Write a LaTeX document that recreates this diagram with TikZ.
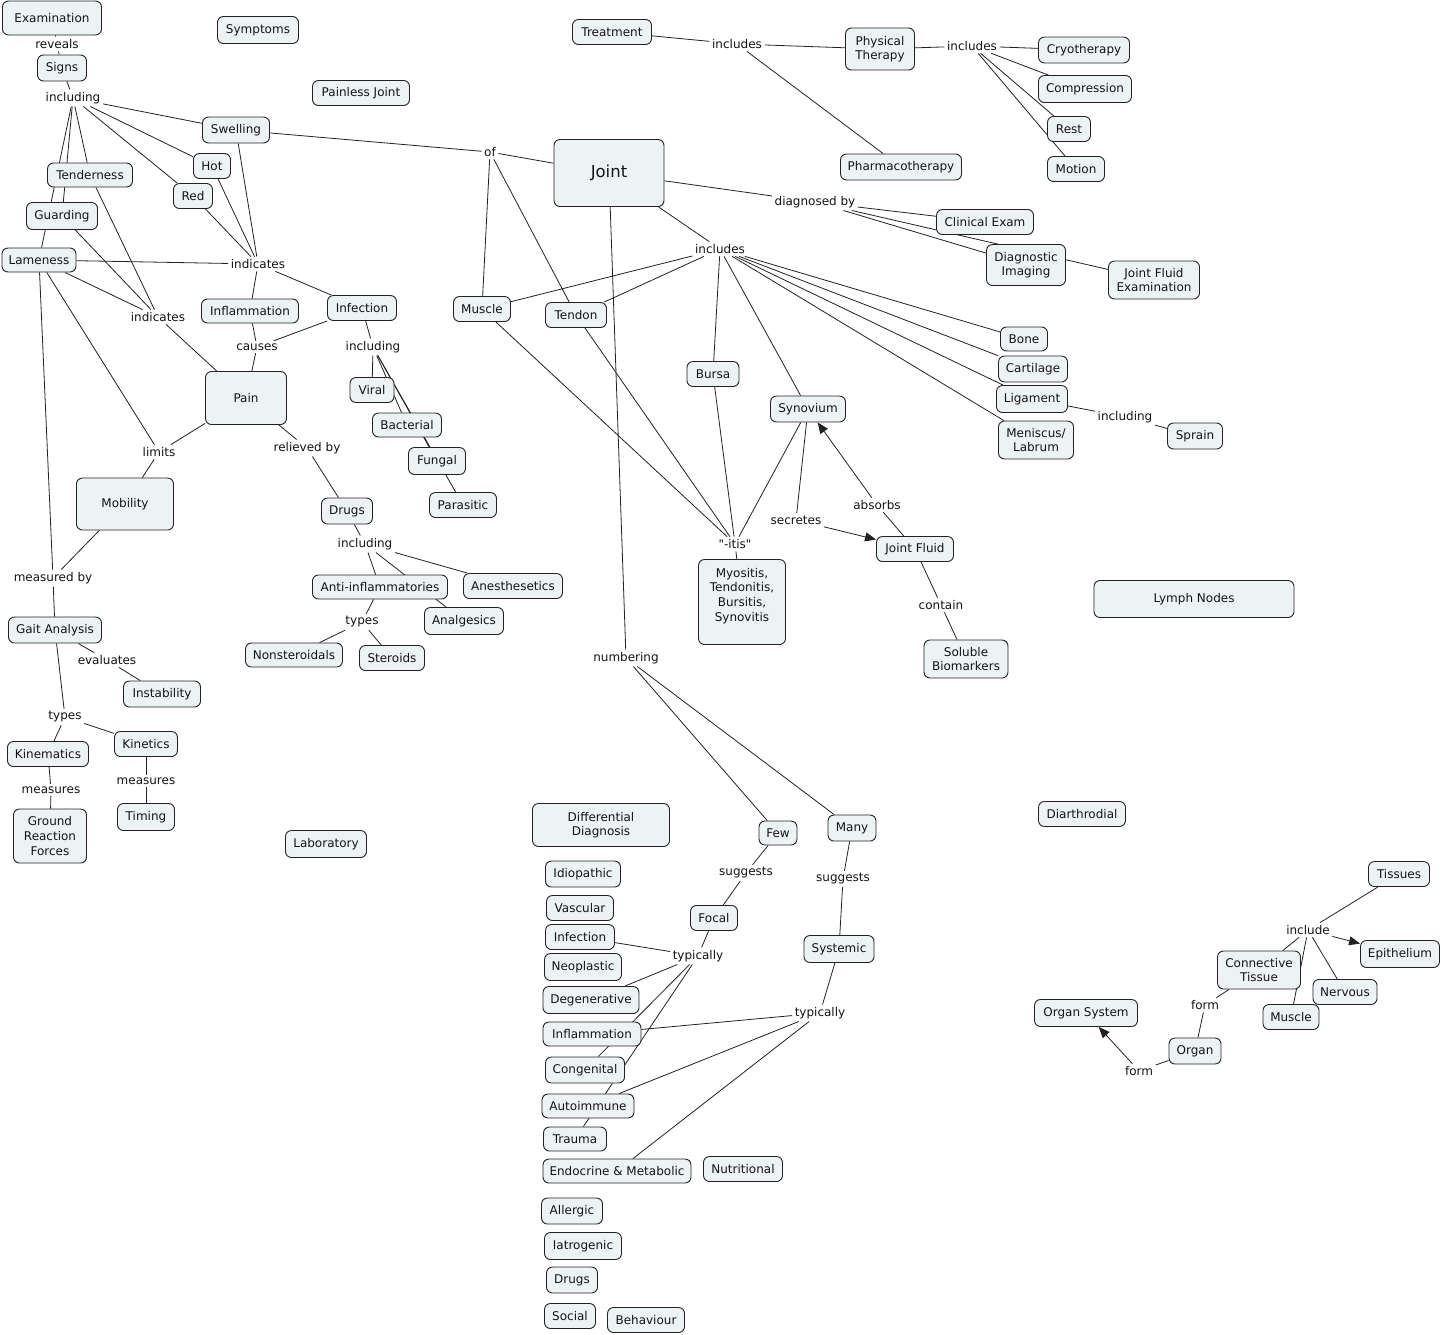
\documentclass[tikz,border=0pt]{standalone}
\usepackage{fontspec}
\setmainfont{DejaVu Sans}
\usetikzlibrary{arrows.meta}
\definecolor{cmapfill}{RGB}{237,243,245}
\definecolor{cmapline}{RGB}{34,34,34}
\definecolor{cmaptext}{RGB}{20,20,20}
\pgfdeclarelayer{background}
\pgfsetlayers{background,main}

\begin{document}
\begin{tikzpicture}[x=1pt, y=-1pt,
  concept/.style 2 args={draw=cmapline, fill=cmapfill, rounded corners=6pt, line width=0.9pt,
    inner sep=1pt, align=center, text=cmaptext, font=\fontsize{12}{14.6}\selectfont,
    minimum width=#1, minimum height=#2},
  link/.style={inner sep=2.5pt, text=cmaptext, font=\fontsize{12}{14.6}\selectfont},
  conn/.style={draw=cmapline, line width=0.8pt},
  arrowconn/.style={conn, -{Triangle[length=11pt,width=9pt]}}]
\useasboundingbox (0,0) rectangle (1442,1334);

% signs and symptoms
\node[concept={99}{34}] (exam) at (52,18) {Examination};
\node[concept={49}{26}] (signs) at (62,68) {Signs};
\node[concept={81}{27}] (symptoms) at (258,30) {Symptoms};
\node[concept={97}{25}] (painless) at (361,93) {Painless Joint};
\node[concept={67}{26}] (swelling) at (236,130) {Swelling};
\node[concept={37}{25}] (hot) at (212,166) {Hot};
\node[concept={39}{25}] (red) at (193,196) {Red};
\node[concept={85}{24}] (tender) at (90,175) {Tenderness};
\node[concept={71}{27}] (guard) at (62,216) {Guarding};
\node[concept={74}{24}] (lame) at (39,260) {Lameness};
\node[concept={97}{24}] (inflam) at (250,311) {Inflammation};
\node[concept={69}{25}] (infect) at (362,308) {Infection};
\node[concept={81}{53}] (pain) at (246,398) {Pain};
\node[concept={44}{25}] (viral) at (372,390) {Viral};
\node[concept={69}{24}] (bact) at (407,425) {Bacterial};
\node[concept={57}{27}] (fungal) at (437,461) {Fungal};
\node[concept={67}{25}] (parasitic) at (463,505) {Parasitic};
\node[concept={97}{52}] (mobility) at (125,504) {Mobility};
\node[concept={51}{26}] (drugs) at (347,511) {Drugs};
\node[concept={135}{24}] (antiinf) at (380,587) {Anti-inflammatories};
\node[concept={99}{25}] (anesth) at (513,586) {Anesthesetics};
\node[concept={79}{27}] (analg) at (464,621) {Analgesics};
\node[concept={97}{24}] (nonster) at (294,655) {Nonsteroidals};
\node[concept={65}{25}] (steroids) at (392,658) {Steroids};
\node[concept={93}{26}] (gait) at (55,630) {Gait Analysis};
\node[concept={77}{26}] (instab) at (162,694) {Instability};
\node[concept={63}{25}] (kinetics) at (146,744) {Kinetics};
\node[concept={81}{25}] (kinem) at (48,754) {Kinematics};
\node[concept={73}{54}] (grf) at (50,836) {Ground\\Reaction\\Forces};
\node[concept={57}{27}] (timing) at (146,817) {Timing};
\node[concept={81}{27}] (lab) at (326,844) {Laboratory};

% joint, treatment, diagnosis
\node[concept={79}{25}] (treat) at (612,32) {Treatment};
\node[concept={69}{42}] (pt) at (880,49) {Physical\\Therapy};
\node[concept={121}{26}] (pharma) at (901,167) {Pharmacotherapy};
\node[concept={91}{26}] (cryo) at (1084,50) {Cryotherapy};
\node[concept={93}{27}] (compr) at (1085,89) {Compression};
\node[concept={43}{25}] (rest) at (1069,129) {Rest};
\node[concept={57}{25}] (motion) at (1076,169) {Motion};
\node[concept={110}{67}, font=\fontsize{16.5}{20}\selectfont] (joint) at (609,173) {Joint};
\node[concept={97}{25}] (clinical) at (985,222) {Clinical Exam};
\node[concept={79}{41}] (diagimg) at (1026,265) {Diagnostic\\Imaging};
\node[concept={91}{38}] (jfe) at (1154,280) {Joint Fluid\\Examination};
\node[concept={57}{25}] (muscle) at (482,309) {Muscle};
\node[concept={61}{25}] (tendon) at (576,315) {Tendon};
\node[concept={52}{25}] (bursa) at (713,374) {Bursa};
\node[concept={75}{26}] (synov) at (808,409) {Synovium};
\node[concept={47}{24}] (bone) at (1024,339) {Bone};
\node[concept={69}{26}] (cart) at (1033,369) {Cartilage};
\node[concept={71}{27}] (lig) at (1032,399) {Ligament};
\node[concept={75}{38}] (menisc) at (1036,440) {Meniscus/\\Labrum};
\node[concept={55}{26}] (sprain) at (1195,436) {Sprain};
\node[concept={200}{37}] (lymph) at (1194,599) {Lymph Nodes};
\node[concept={87}{85}] (itisbox) at (742,602) {Myositis,\\Tendonitis,\\Bursitis,\\Synovitis\\\mbox{}};
\node[concept={77}{25}] (jfluid) at (915,549) {Joint Fluid};
\node[concept={84}{38}] (soluble) at (966,659) {Soluble\\Biomarkers};

% differential diagnosis
\node[concept={137}{43}] (diffdx) at (601,825) {Differential\\Diagnosis};
\node[concept={38}{24}] (few) at (778,833) {Few};
\node[concept={48}{26}] (many) at (852,828) {Many};
\node[concept={75}{26}] (idio) at (583,874) {Idiopathic};
\node[concept={67}{25}] (vasc) at (580,908) {Vascular};
\node[concept={47}{25}] (focal) at (714,918) {Focal};
\node[concept={69}{25}] (infx) at (580,937) {Infection};
\node[concept={77}{27}] (neopl) at (583,967) {Neoplastic};
\node[concept={96}{27}] (degen) at (591,1000) {Degenerative};
\node[concept={70}{27}] (systemic) at (839,949) {Systemic};
\node[concept={98}{24}] (inflx) at (592,1034) {Inflammation};
\node[concept={79}{26}] (congen) at (585,1070) {Congenital};
\node[concept={92}{24}] (autoimm) at (588,1106) {Autoimmune};
\node[concept={63}{24}] (trauma) at (575,1139) {Trauma};
\node[concept={148}{24}] (endo) at (617,1171) {Endocrine \& Metabolic};
\node[concept={79}{25}] (nutri) at (743,1169) {Nutritional};
\node[concept={61}{26}] (allergic) at (572,1211) {Allergic};
\node[concept={77}{27}] (iatro) at (583,1246) {Iatrogenic};
\node[concept={51}{26}] (drugsx) at (572,1280) {Drugs};
\node[concept={51}{25}] (social) at (570,1316) {Social};
\node[concept={77}{25}] (behav) at (646,1320) {Behaviour};

% tissues
\node[concept={87}{25}] (diarth) at (1082,814) {Diarthrodial};
\node[concept={61}{25}] (tissues) at (1399,874) {Tissues};
\node[concept={79}{27}] (epith) at (1400,954) {Epithelium};
\node[concept={83}{38}] (ct) at (1259,970) {Connective\\Tissue};
\node[concept={64}{25}] (nervous) at (1345,992) {Nervous};
\node[concept={56}{25}] (musclet) at (1291,1017) {Muscle};
\node[concept={103}{27}] (orgsys) at (1086,1013) {Organ System};
\node[concept={52}{26}] (organ) at (1195,1051) {Organ};

% linking phrases
\node[link] (lreveals) at (57,44) {reveals};
\node[link] (lincA) at (73,98) {including};
\node[link] (lindA) at (258,264) {indicates};
\node[link] (lindB) at (158,317) {indicates};
\node[link] (lcauses) at (257,347) {causes};
\node[link] (lincB) at (373,347) {including};
\node[link] (llimits) at (159,452) {limits};
\node[link] (lrelieved) at (307,448) {relieved by};
\node[link] (lmeasby) at (53,578) {measured by};
\node[link] (lincC) at (365,544) {including};
\node[link] (ltypesA) at (362,622) {types};
\node[link] (leval) at (107,660) {evaluates};
\node[link] (ltypesB) at (65,717) {types};
\node[link] (lmeasA) at (51,790) {measures};
\node[link] (lmeasB) at (146,781) {measures};
\node[link] (lof) at (490,152) {of};
\node[link] (lincD) at (737,44) {includes};
\node[link] (lincE) at (972,46) {includes};
\node[link] (ldiag) at (815,202) {diagnosed by};
\node[link] (lincF) at (720,249) {includes};
\node[link] (lincG) at (1125,417) {including};
\node[link] (lsecr) at (796,520) {secretes};
\node[link] (labs) at (877,505) {absorbs};
\node[link] (litis) at (735,544) {\textquotedbl-itis\textquotedbl};
\node[link] (lcontain) at (941,605) {contain};
\node[link] (lnumber) at (626,658) {numbering};
\node[link] (lsuggA) at (746,873) {suggests};
\node[link] (lsuggB) at (843,879) {suggests};
\node[link] (ltypA) at (698,956) {typically};
\node[link] (ltypB) at (820,1013) {typically};
\node[link] (linclude) at (1308,930) {include};
\node[link] (lformA) at (1205,1005) {form};
\node[link] (lformB) at (1139,1071) {form};

\begin{pgfonlayer}{background}
\fill[white] (0,0) rectangle (1442,1334);
% left cluster
\draw[conn] (exam) -- (lreveals) -- (signs);
\draw[conn] (signs) -- (lincA);
\foreach \t in {swelling,hot,red,tender,guard,lame} \draw[conn] (lincA) -- (\t);
\foreach \s in {swelling,hot,red,lame} \draw[conn] (\s) -- (lindA);
\foreach \t in {inflam,infect} \draw[conn] (lindA) -- (\t);
\foreach \s in {lame,guard,tender} \draw[conn] (\s) -- (lindB);
\draw[conn] (lindB) -- (pain);
\foreach \s in {inflam,infect} \draw[conn] (\s) -- (lcauses);
\draw[conn] (lcauses) -- (pain);
\draw[conn] (infect) -- (lincB);
\foreach \t in {viral,bact,fungal,parasitic} \draw[conn] (lincB) -- (\t);
\foreach \s in {pain,lame} \draw[conn] (\s) -- (llimits);
\draw[conn] (llimits) -- (mobility);
\foreach \s in {lame,mobility} \draw[conn] (\s) -- (lmeasby);
\draw[conn] (lmeasby) -- (gait);
\draw[conn] (pain) -- (lrelieved) -- (drugs);
\draw[conn] (drugs) -- (lincC);
\foreach \t in {antiinf,anesth,analg} \draw[conn] (lincC) -- (\t);
\draw[conn] (antiinf) -- (ltypesA);
\foreach \t in {nonster,steroids} \draw[conn] (ltypesA) -- (\t);
\draw[conn] (gait) -- (leval) -- (instab);
\draw[conn] (gait) -- (ltypesB);
\foreach \t in {kinem,kinetics} \draw[conn] (ltypesB) -- (\t);
\draw[conn] (kinem) -- (lmeasA) -- (grf);
\draw[conn] (kinetics) -- (lmeasB) -- (timing);
% joint
\draw[conn] (swelling) -- (lof);
\foreach \t in {joint,muscle,tendon} \draw[conn] (lof) -- (\t);
\draw[conn] (treat) -- (lincD);
\foreach \t in {pt,pharma} \draw[conn] (lincD) -- (\t);
\draw[conn] (pt) -- (lincE);
\foreach \t in {cryo,compr,rest,motion} \draw[conn] (lincE) -- (\t);
\draw[conn] (joint) -- (ldiag);
\foreach \t in {clinical,diagimg,jfe} \draw[conn] (ldiag) -- (\t);
\draw[conn] (joint) -- (lincF);
\foreach \t in {muscle,tendon,bursa,synov,bone,cart,lig,menisc} \draw[conn] (lincF) -- (\t);
\draw[conn] (lig) -- (lincG) -- (sprain);
\draw[conn] (synov) -- (lsecr);
\draw[arrowconn] (lsecr) -- (jfluid);
\draw[conn] (jfluid) -- (labs);
\draw[arrowconn] (labs) -- (synov);
\draw[conn] (jfluid) -- (lcontain) -- (soluble);
\foreach \s in {muscle,tendon,bursa,synov} \draw[conn] (\s) -- (litis);
\draw[conn] (litis) -- (itisbox);
% differential diagnosis
\draw[conn] (joint) -- (lnumber);
\foreach \t in {few,many} \draw[conn] (lnumber) -- (\t);
\draw[conn] (few) -- (lsuggA) -- (focal);
\draw[conn] (many) -- (lsuggB) -- (systemic);
\draw[conn] (focal) -- (ltypA);
\foreach \t in {infx,degen,congen,trauma} \draw[conn] (ltypA) -- (\t);
\draw[conn] (systemic) -- (ltypB);
\foreach \t in {inflx,autoimm,endo} \draw[conn] (ltypB) -- (\t);
% tissues
\draw[conn] (tissues) -- (linclude);
\foreach \t in {ct,nervous,musclet} \draw[conn] (linclude) -- (\t);
\draw[arrowconn] (linclude) -- (epith);
\draw[conn] (ct) -- (lformA) -- (organ);
\draw[conn] (organ) -- (lformB);
\draw[arrowconn] (lformB) -- (orgsys);
\end{pgfonlayer}
\end{tikzpicture}
\end{document}
